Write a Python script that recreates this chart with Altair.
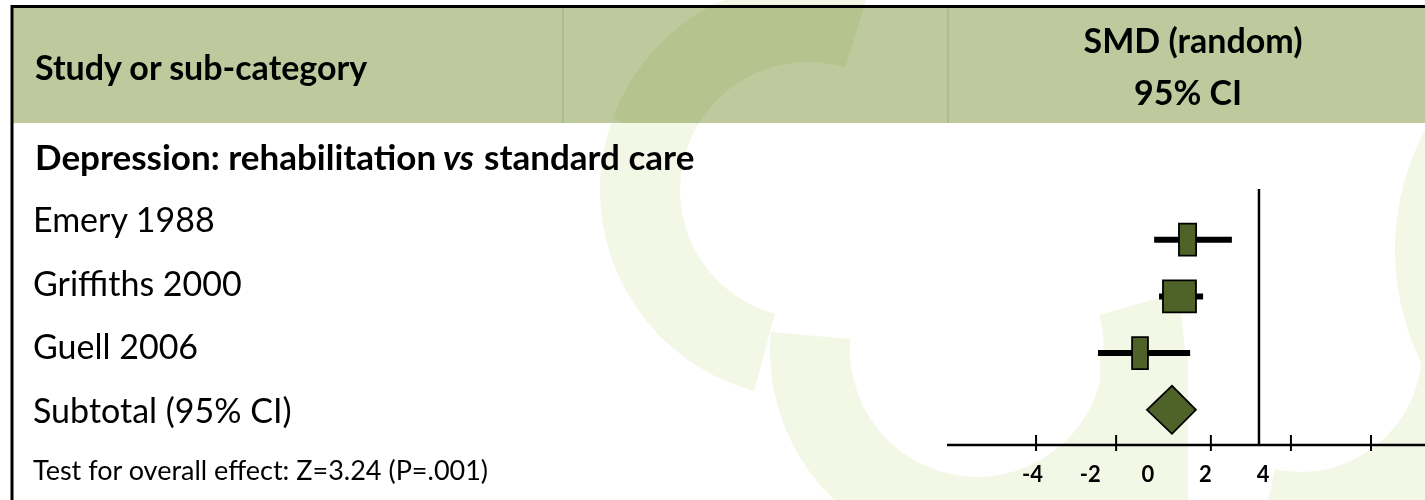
import altair as alt
import pandas as pd
import math

# ---------------- data ----------------
studies = ["Emery 1988", "Griffiths 2000", "Guell 2006"]
smd = [1.38, 1.10, -0.27]
ci_low = [0.22, 0.39, -1.73]
ci_high = [2.92, 1.92, 1.47]
weight = [26, 50, 24]          # relative weight -> box width

subtotal_label = "Subtotal (95% CI)"
subtotal_smd = 0.84
subtotal_low = -0.03
subtotal_high = 1.67

group_title = ["Depression: rehabilitation", "vs", "standard care"]
test_text = "Test for overall effect: Z=3.24 (P=.001)"
header_left = "Study or sub-category"
header_right = ["SMD (random)", "95% CI"]

tick_values = [-3.88, -1.10, 2.19, 4.97, 7.75]
tick_label_values = [-4, -2, 0, 2, 4]
tick_labels = ["-4", "-2", "0", "2", "4"]
null_line = 3.86

# ---------------- styling ----------------
FONT = "Lato"
GREEN = "#4F6228"
HEADER = "#BECA9E"
WM = "#F3F7E6"

W, H = 1425, 500
xs = alt.Scale(domain=[-4, 4], range=[1032.6, 1263])
ys = alt.Scale(domain=[1, 4], range=[239.7, 409.8])

one = pd.DataFrame({"k": [0]})

studies_df = pd.DataFrame({
    "study": studies, "row": [1, 2, 3], "smd": smd,
    "lo": ci_low, "hi": ci_high, "weight": weight,
})

layers = []
d = math.pi / 180


def ring(cx, cy, r0, r1, t0, t1, blend=None):
    kw = dict(color=WM)
    if blend:
        kw["blend"] = blend
    return alt.Chart(one).mark_arc(**kw).encode(
        x=alt.value(cx), y=alt.value(cy),
        theta=alt.value(t0), theta2=alt.value(t1),
        radius=alt.value(r1), radius2=alt.value(r0),
    )


def label(text, x, y, size, weight="normal", style="normal", align="left"):
    return alt.Chart(one).mark_text(
        text=text, font=FONT, fontSize=size, fontWeight=weight, fontStyle=style,
        align=align, baseline="middle", color="black").encode(
        x=alt.value(x), y=alt.value(y))


# ---- watermark (decorative logo rings) ----
layers.append(ring(808, 190, 128, 208, 195 * d, 290 * d))
layers.append(ring(977, 350, 127, 207, 74 * d, 275 * d))
layers.append(alt.Chart(one).mark_rect(color=WM).encode(
    x=alt.value(1100), x2=alt.value(1188), y=alt.value(350), y2=alt.value(500)))
layers.append(ring(1300, 350, 122, 205, 55 * d, 192 * d))
layers.append(ring(1650, 250, 0, 255, 220 * d, 320 * d))

# ---- header band ----
layers.append(alt.Chart(one).mark_rect(color=HEADER).encode(
    x=alt.value(13), x2=alt.value(W), y=alt.value(8), y2=alt.value(123)))
layers.append(ring(808, 190, 128, 208, 290 * d, 377 * d, blend="multiply"))
for sx in [563, 948]:
    layers.append(alt.Chart(one).mark_rule(color="#9FB07C", strokeWidth=1).encode(
        x=alt.value(sx), y=alt.value(8), y2=alt.value(123)))

# borders
layers.append(alt.Chart(one).mark_rule(color="black", strokeWidth=3).encode(
    x=alt.value(11), x2=alt.value(W), y=alt.value(6.5)))
layers.append(alt.Chart(one).mark_rule(color="black", strokeWidth=3).encode(
    x=alt.value(12), y=alt.value(5), y2=alt.value(H)))

# header texts
layers.append(label(header_left, 35, 70, 34, "bold"))
layers.append(label(header_right[0], 1193, 43, 34, "bold", align="center"))
layers.append(label(header_right[1], 1188, 95, 34, "bold", align="center"))

# group title (bold, with italic "vs")
layers.append(label(group_title[0], 35, 159, 35, "bold"))
layers.append(label(group_title[1], 443, 159, 35, "bold", "italic"))
layers.append(label(group_title[2], 484, 159, 35, "bold"))

# study / subtotal row labels
label_df = pd.DataFrame({"label": studies + [subtotal_label], "row": [1, 2, 3, 4]})
label_y = alt.Scale(domain=[1, 4], range=[222, 413])
layers.append(alt.Chart(label_df).mark_text(
    font=FONT, fontSize=34, align="left", baseline="middle", color="black").encode(
    x=alt.value(33), y=alt.Y("row:Q", scale=label_y, axis=None), text="label:N"))

layers.append(label(test_text, 33, 472, 27))

# ---- forest plot ----
# axis line
layers.append(alt.Chart(one).mark_rule(color="black", strokeWidth=2.5).encode(
    x=alt.value(947), x2=alt.value(W), y=alt.value(445)))
# ticks
tick_df = pd.DataFrame({"t": tick_values})
layers.append(alt.Chart(tick_df).mark_rule(color="black", strokeWidth=2).encode(
    x=alt.X("t:Q", scale=xs, axis=None), y=alt.value(435), y2=alt.value(451)))
# tick labels
tl_df = pd.DataFrame({"v": tick_label_values, "lab": tick_labels})
layers.append(alt.Chart(tl_df).mark_text(
    font=FONT, fontSize=22, fontWeight="bold", align="center", baseline="middle",
    color="black").encode(
    x=alt.X("v:Q", scale=xs, axis=None), y=alt.value(475), text="lab:N"))
# vertical reference line
layers.append(alt.Chart(pd.DataFrame({"v": [null_line]})).mark_rule(
    color="black", strokeWidth=2.5).encode(
    x=alt.X("v:Q", scale=xs, axis=None), y=alt.value(189), y2=alt.value(445)))

# CI lines
layers.append(alt.Chart(studies_df).mark_rule(color="black", strokeWidth=6).encode(
    x=alt.X("lo:Q", scale=xs, axis=None), x2="hi:Q",
    y=alt.Y("row:Q", scale=ys, axis=None)))
# weight boxes
layers.append(alt.Chart(studies_df).transform_calculate(
    half="datum.weight * 0.33 / 28.8",
    bx="datum.smd - datum.half", bx2="datum.smd + datum.half",
    by="datum.row - 0.282", by2="datum.row + 0.282",
).mark_rect(color=GREEN, stroke="black", strokeWidth=1.8).encode(
    x=alt.X("bx:Q", scale=xs, axis=None), x2="bx2:Q",
    y=alt.Y("by:Q", scale=ys, axis=None), y2="by2:Q"))
# subtotal diamond
dia_df = pd.DataFrame({
    "x": [subtotal_low, subtotal_smd, subtotal_high],
    "top": [4, 4 - 0.423, 4], "bot": [4, 4 + 0.423, 4],
})
layers.append(alt.Chart(dia_df).mark_area(
    color=GREEN, stroke="black", strokeWidth=1.8, opacity=1).encode(
    x=alt.X("x:Q", scale=xs, axis=None),
    y=alt.Y("top:Q", scale=ys, axis=None), y2="bot:Q"))

chart = alt.layer(*layers).resolve_scale(y="independent").properties(
    width=W, height=H, padding=0, autosize=alt.AutoSizeParams(type="none"),
    background="white",
).configure_view(stroke=None)

chart.save("out.html", embed_options={"renderer": "svg", "actions": False})
